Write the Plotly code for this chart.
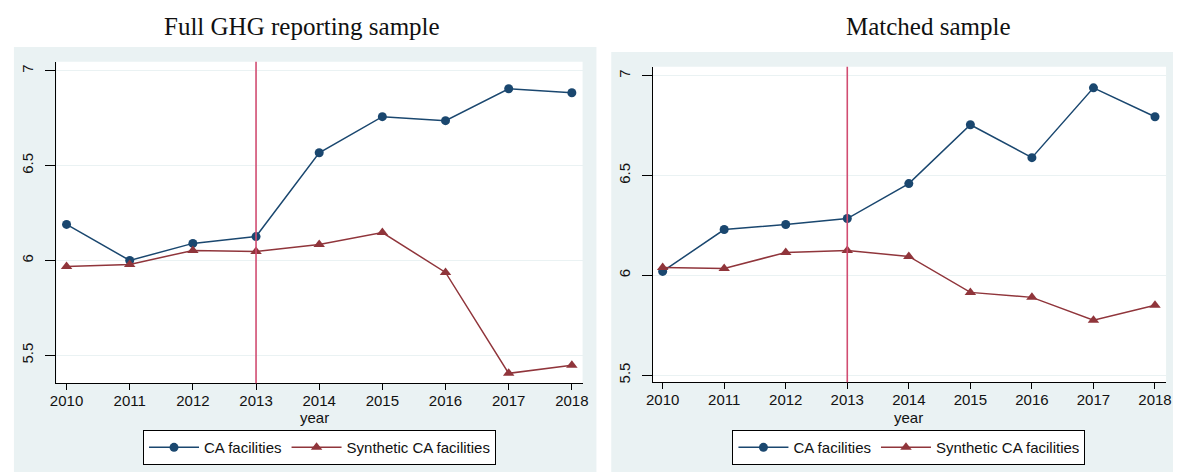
import plotly.graph_objects as go

years = [2010, 2011, 2012, 2013, 2014, 2015, 2016, 2017, 2018]

# Full GHG reporting sample
full_ca = [6.19, 6.00, 6.09, 6.126, 6.568, 6.758, 6.737, 6.905, 6.884]
full_synth = [5.968, 5.979, 6.053, 6.047, 6.084, 6.147, 5.937, 5.405, 5.447]

# Matched sample
matched_ca = [6.02, 6.23, 6.255, 6.285, 6.46, 6.755, 6.59, 6.94, 6.795]
matched_synth = [6.04, 6.035, 6.115, 6.125, 6.095, 5.915, 5.89, 5.775, 5.85]

panel_titles = ["Full GHG reporting sample", "Matched sample"]
series_names = ["CA facilities", "Synthetic CA facilities"]
x_title = "year"
y_ticks = [5.5, 6, 6.5, 7]
treat_year = 2013

W, H = 1179, 473
NAVY = "#1A476F"
MAROON = "#90353B"
VLINE = "#D14D72"
BG = "#EAF2F3"
TICK_FONT = dict(family="Liberation Sans, Arial, sans-serif", size=15, color="#111111")


def px_x(v):
    return v / W


def px_y(v):
    return 1 - v / H


fig = go.Figure()

panels = [
    dict(ca=full_ca, synth=full_synth, xd=[px_x(50), px_x(582)], yd=[px_y(384), px_y(62)],
         yr=[5.353, 7.047], xr=[2009.84, 2018.17], legend="legend", title_x=311),
    dict(ca=matched_ca, synth=matched_synth, xd=[px_x(653), px_x(1172)], yd=[px_y(383), px_y(67)],
         yr=[5.465, 7.045], xr=[2009.84, 2018.18], legend="legend2", title_x=912),
]

for i, p in enumerate(panels):
    sfx = "" if i == 0 else str(i + 1)
    xa, ya = "x" + sfx, "y" + sfx
    fig.add_trace(go.Scatter(
        x=years, y=p["ca"], name=series_names[0], mode="lines+markers",
        line=dict(color=NAVY, width=1.5), marker=dict(symbol="circle", size=9, color=NAVY),
        xaxis=xa, yaxis=ya, legend=p["legend"]))
    fig.add_trace(go.Scatter(
        x=years, y=p["synth"], name=series_names[1], mode="lines+markers",
        line=dict(color=MAROON, width=1.5), marker=dict(symbol="triangle-up", size=10, color=MAROON),
        xaxis=xa, yaxis=ya, legend=p["legend"]))
    fig.add_shape(type="line", xref=xa, yref=ya + " domain", x0=treat_year, x1=treat_year,
                  y0=0, y1=1, line=dict(color=VLINE, width=1.6), layer="above")

    fig.layout["xaxis" + sfx] = dict(
        domain=p["xd"], anchor=ya, range=p["xr"], tickmode="array", tickvals=years,
        ticks="outside", ticklen=6, tickcolor="black", showline=True, linecolor="black",
        linewidth=1, showgrid=False, zeroline=False, tickfont=TICK_FONT, ticklabelstandoff=-2)
    fig.layout["yaxis" + sfx] = dict(
        domain=p["yd"], anchor=xa, range=p["yr"], tickmode="array", tickvals=y_ticks,
        ticktext=["5.5", "6", "6.5", "7"], tickangle=-90, ticklabelstandoff=6,
        ticks="outside", ticklen=10, tickcolor="black", showline=True, linecolor="black",
        linewidth=1, showgrid=True, gridcolor=BG, gridwidth=1, zeroline=False, tickfont=TICK_FONT)
    fig.add_annotation(text=x_title, x=px_x(p["title_x"]), y=px_y(418), xref="paper", yref="paper",
                       showarrow=False, font=TICK_FONT, xanchor="center", yanchor="middle")

# panel backgrounds
fig.add_shape(type="rect", xref="paper", yref="paper", x0=px_x(7), x1=px_x(596),
              y0=0, y1=px_y(47), fillcolor=BG, line=dict(width=0), layer="below")
fig.add_shape(type="rect", xref="paper", yref="paper", x0=px_x(611), x1=1,
              y0=0, y1=px_y(52), fillcolor=BG, line=dict(width=0), layer="below")
# plot areas
for p in panels:
    fig.add_shape(type="rect", xref="paper", yref="paper", x0=p["xd"][0], x1=p["xd"][1],
                  y0=p["yd"][0], y1=p["yd"][1], fillcolor="white", line=dict(width=0), layer="below")

title_font = dict(family="Liberation Serif, Times New Roman, serif", size=25, color="#111111")
fig.add_annotation(text=panel_titles[0], x=px_x(298), y=px_y(27), xref="paper", yref="paper",
                   showarrow=False, font=title_font, xanchor="center", yanchor="middle")
fig.add_annotation(text=panel_titles[1], x=px_x(932), y=px_y(27), xref="paper", yref="paper",
                   showarrow=False, font=title_font, xanchor="center", yanchor="middle")

legend_common = dict(orientation="h", bgcolor="white", bordercolor="black", borderwidth=1,
                     font=TICK_FONT, xanchor="center", yanchor="top", itemwidth=50,
                     tracegroupgap=0)
fig.update_layout(
    width=W, height=H, margin=dict(l=0, r=0, t=0, b=0),
    paper_bgcolor="white", plot_bgcolor="rgba(0,0,0,0)", showlegend=True,
    legend=dict(x=px_x(316), y=px_y(431), **legend_common),
    legend2=dict(x=px_x(912), y=px_y(431), **legend_common),
)

fig.write_html("out.html")
